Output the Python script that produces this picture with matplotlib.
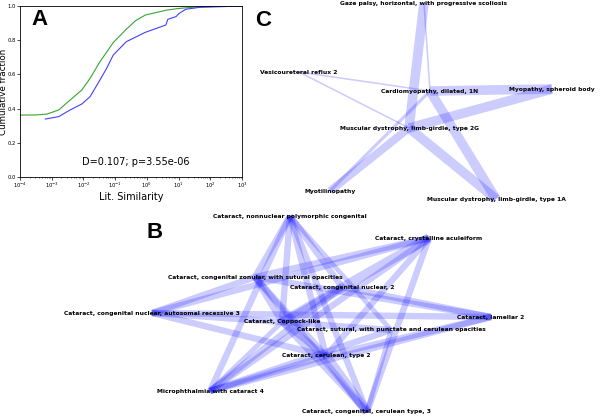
import numpy as np
import matplotlib
matplotlib.use('Agg')
import matplotlib.pyplot as plt

# ---- panel A: cumulative distributions (log10 of similarity, fraction)
green_logx = [-4.0, -3.5, -3.15, -2.78, -2.42, -2.05, -1.79, -1.48, -1.25, -1.06, -0.65, -0.35, -0.05, 0.60, 0.97, 1.65, 3.0]
green_frac = [0.362, 0.363, 0.368, 0.392, 0.450, 0.509, 0.577, 0.674, 0.735, 0.786, 0.864, 0.915, 0.947, 0.975, 0.985, 0.996, 1.0]
blue_logx = [-3.2, -2.78, -2.42, -2.05, -1.79, -1.48, -1.27, -1.06, -0.65, -0.05, 0.60, 0.66, 0.92, 1.02, 1.23, 1.65, 3.0]
blue_frac = [0.339, 0.353, 0.392, 0.427, 0.470, 0.567, 0.635, 0.713, 0.791, 0.846, 0.889, 0.922, 0.938, 0.957, 0.981, 0.992, 1.0]
stat_text = 'D=0.107; p=3.55e-06'

# ---- panel B: network (layout in figure pixels)
b_names = ['Cataract, nonnuclear polymorphic congenital',
           'Cataract, crystalline aculeiform',
           'Cataract, congenital zonular, with sutural opacities',
           'Cataract, congenital nuclear, 2',
           'Cataract, congenital nuclear, autosomal recessive 3',
           'Cataract, Coppock-like',
           'Cataract, sutural, with punctate and cerulean opacities',
           'Cataract, lamellar 2',
           'Cataract, cerulean, type 2',
           'Microphthalmia with cataract 4',
           'Cataract, congenital, cerulean type, 3']
b_x = [290, 429, 255, 342, 152, 282, 391, 491, 326, 210, 367]
b_y = [216, 238, 277, 287, 313, 322, 330, 317, 356, 391, 412]
b_edges = [(0, 2, 2), (0, 3, 2), (0, 5, 2), (0, 6, 1.5), (0, 8, 2), (0, 9, 2), (0, 10, 2),
           (1, 2, 2), (1, 4, 2), (1, 5, 3), (1, 8, 2), (1, 9, 2), (1, 10, 2),
           (2, 4, 2), (2, 5, 2), (2, 8, 2), (2, 10, 2), (2, 7, 2),
           (3, 7, 2), (3, 5, 2), (3, 9, 2),
           (4, 5, 2), (4, 7, 2), (4, 8, 2),
           (5, 8, 2), (5, 10, 2), (5, 9, 1.5), (5, 6, 2),
           (6, 9, 2), (6, 10, 1.5),
           (7, 8, 2), (7, 9, 2),
           (8, 9, 2), (8, 10, 3)]

# ---- panel C: network
c_names = ['Gaze palsy, horizontal, with progressive scoliosis',
           'Vesicoureteral reflux 2',
           'Cardiomyopathy, dilated, 1N',
           'Myopathy, spheroid body',
           'Muscular dystrophy, limb-girdle, type 2G',
           'Myotilinopathy',
           'Muscular dystrophy, limb-girdle, type 1A']
c_x = [424, 299, 430, 552, 409, 330, 496]
c_y = [3, 72, 91, 89, 128, 191, 199]
c_edges = [(0, 4, 3), (0, 2, 0.5), (1, 2, 0.5), (1, 4, 0.5), (2, 3, 3),
           (2, 6, 3), (2, 5, 1), (3, 4, 3), (4, 5, 2.5), (4, 6, 3)]

fig = plt.figure(figsize=(6, 4.17), dpi=100)

# networks drawn in one full-figure axes
net = fig.add_axes([0, 0, 1, 1])
net.set_xlim(0, 600)
net.set_ylim(417, 0)
net.axis('off')

def draw_net(ax, xs, ys, names, edges):
    for i, j, w in edges:
        ax.plot([xs[i], xs[j]], [ys[i], ys[j]], color=(0, 0, 1), alpha=0.2,
                lw=2.3 * w, solid_capstyle='butt', zorder=1)
    for x, y, n in zip(xs, ys, names):
        ax.text(x, y, n, ha='center', va='center', fontsize=4.3,
                fontweight='bold', color='black', zorder=3)

draw_net(net, b_x, b_y, b_names, b_edges)
draw_net(net, c_x, c_y, c_names, c_edges)

fig.text(155 / 600, 1 - 232 / 417, 'B', fontsize=16, fontweight='bold',
         family='Liberation Sans', ha='center', va='center')
fig.text(263 / 600, 1 - 21 / 417, 'C', fontsize=16, fontweight='bold',
         family='Liberation Sans', ha='center', va='center')

# panel A
ax = fig.add_axes([20 / 600, 1 - 177 / 417, 222 / 600, 171 / 417])
ax.plot(10 ** np.array(green_logx), green_frac, color=(0.2, 0.65, 0.2), lw=0.8)
ax.plot(10 ** np.array(blue_logx), blue_frac, color=(0.25, 0.25, 1), lw=0.8)
ax.set_xscale('log')
ax.set_xlim(1e-4, 1e3)
ax.set_ylim(0, 1)
ax.set_xticks([10.0 ** k for k in range(-4, 4)])
ax.set_yticks(np.arange(0, 1.01, 0.2))
ax.set_yticklabels(['%.1f' % v for v in np.arange(0, 1.01, 0.2)])
ax.tick_params(labelsize=3.8, length=2, width=0.5, pad=0.8)
ax.tick_params(which='minor', length=1, width=0.4)
for s in ax.spines.values():
    s.set_linewidth(0.6)
ax.set_xlabel('Lit. Similarity', fontsize=7, labelpad=1)
ax.set_ylabel('Cumulative fraction', fontsize=6.3)
ax.yaxis.set_label_coords(-0.052, 0.5)
ax.text(0.52, 0.085, stat_text, transform=ax.transAxes, fontsize=7,
        ha='center', va='center')
ax.text(0.05, 0.92, 'A', transform=ax.transAxes, fontsize=16,
        fontweight='bold', family='Liberation Sans', ha='left', va='center')

fig.savefig('out.png', dpi=100)
